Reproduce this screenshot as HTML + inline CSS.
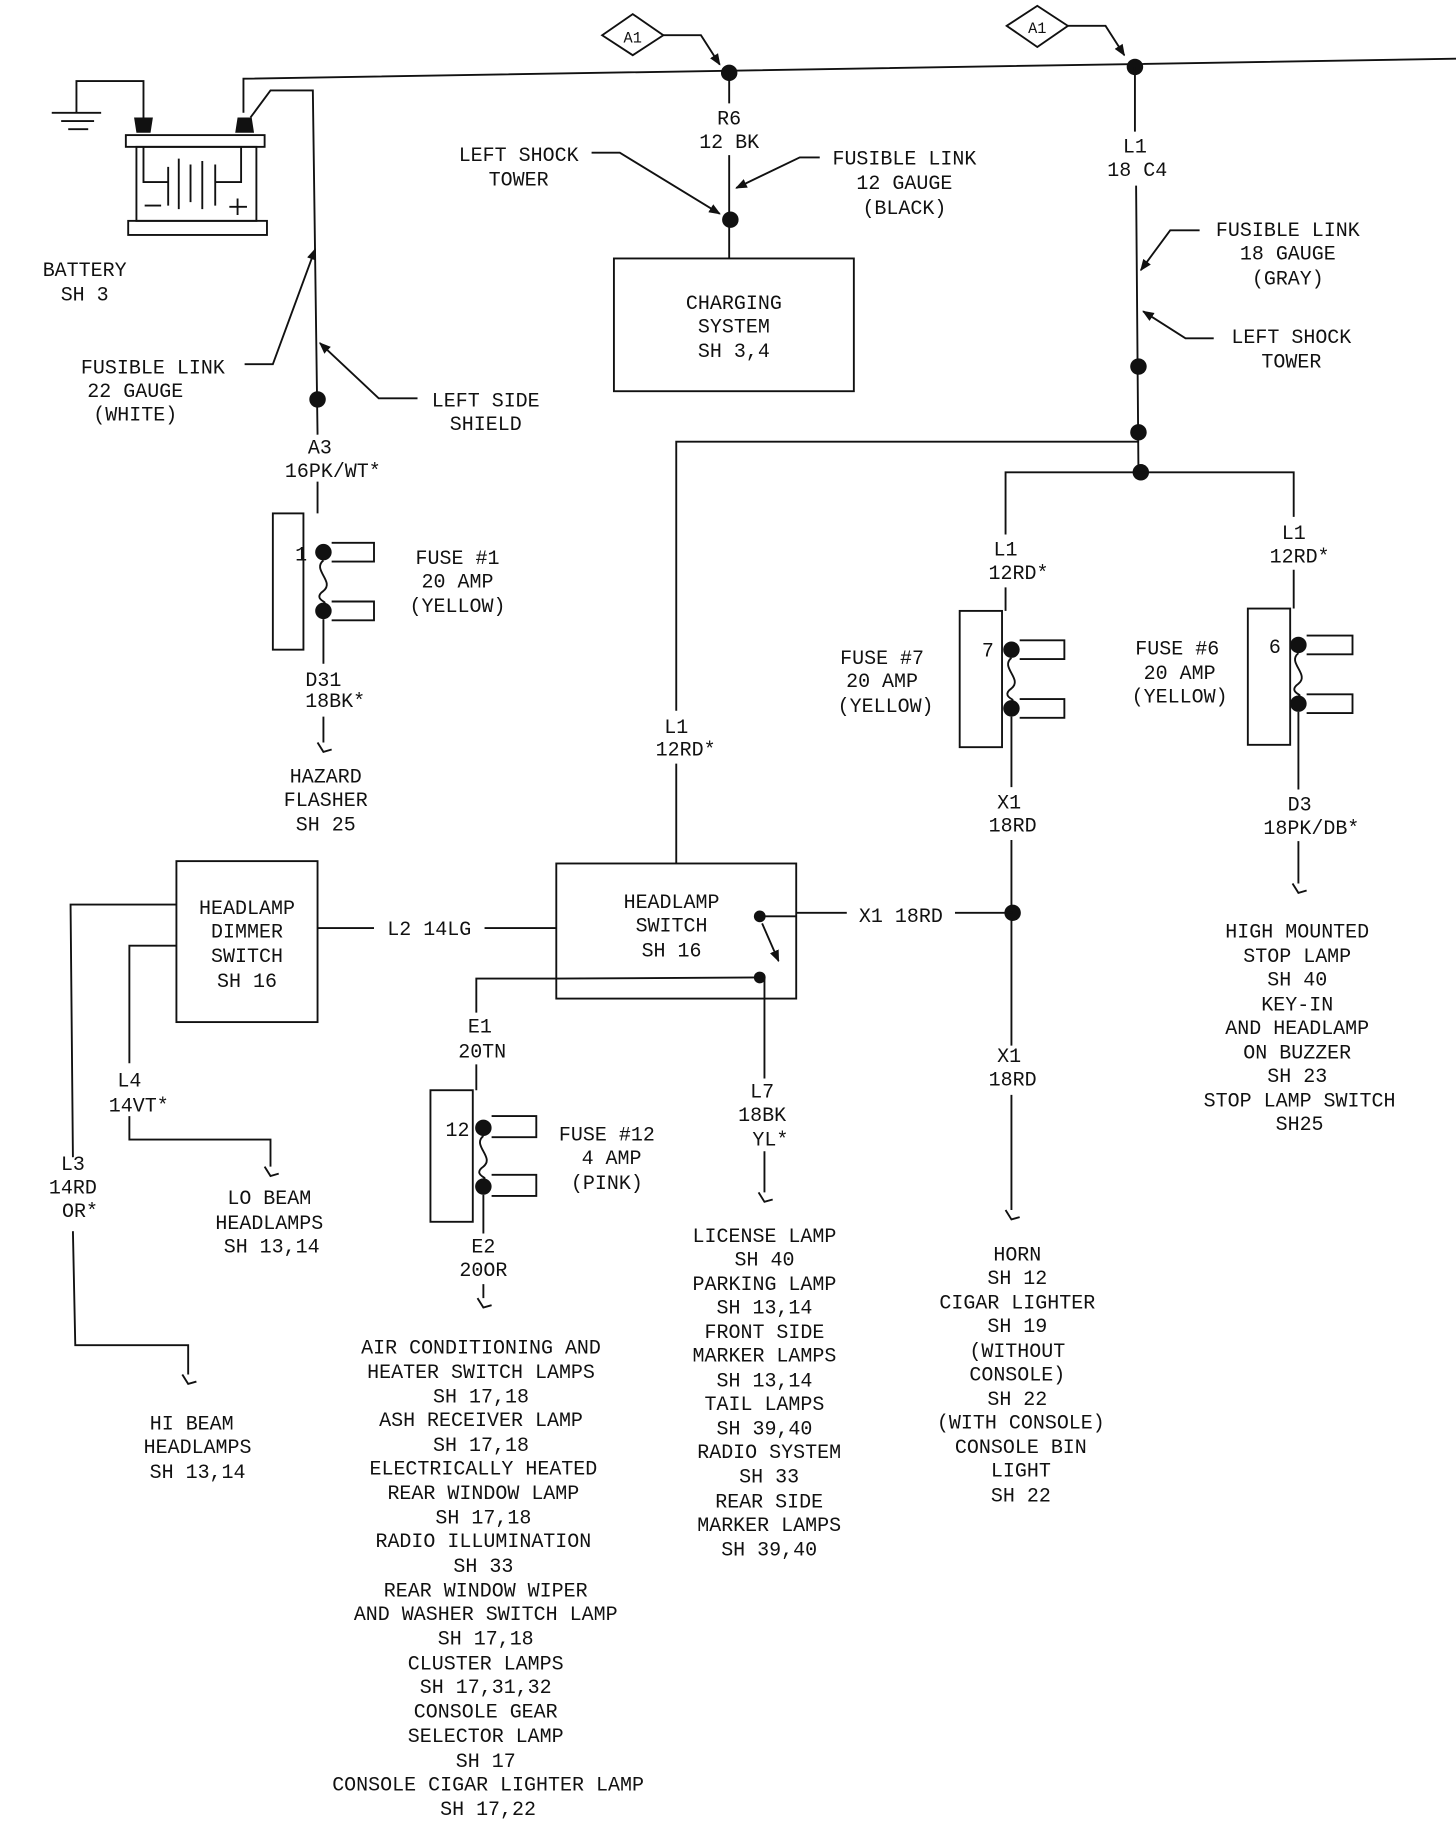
<!DOCTYPE html>
<html><head><meta charset="utf-8"><style>
html,body{margin:0;padding:0;background:#fff;}
svg{display:block;}
text{font-family:"Liberation Mono","DejaVu Sans Mono",monospace;font-size:17px;fill:#111;text-anchor:middle;}
.l{stroke:#111;stroke-width:1.6;fill:none;}
</style></head><body>
<svg width="1456" height="1828" viewBox="0 0 1238 1556" preserveAspectRatio="none" xmlns="http://www.w3.org/2000/svg">
<defs><marker id="ar" markerWidth="10" markerHeight="10" refX="9" refY="5" orient="auto" markerUnits="userSpaceOnUse"><path d="M0,1 L10,5 L0,9 Z" fill="#111"/></marker></defs>
<!-- top line -->
<path class="l" d="M207,96 L207,67 L1238,50"/>
<path class="l" d="M213,100 L230,77 L266,77 L270,370 M270,410 L270,437"/>
<!-- ground -->
<path class="l" d="M122,110 L122,69 L65,69 L65,96"/>
<path class="l" d="M44,96 L86,96 M52,103 L80,103 M58,110 L75,110"/>
<!-- battery -->
<path d="M116,113 L128,113 L130,100 L114,100 Z M200,113 L216,113 L214,100 L202,100 Z" fill="#111"/>
<rect class="l" x="107" y="115" width="118" height="10"/>
<rect class="l" x="116" y="125" width="102" height="63"/>
<rect class="l" x="109" y="188" width="118" height="12"/>
<path class="l" d="M122,125 L122,155 L143,155 M143,142 L143,175 M152,135 L152,178 M162,140 L162,172 M172,137 L172,178 M183,140 L183,175 M183,155 L205,155 L205,125"/>
<path class="l" d="M123,175 L137,175 M195,176 L210,176 M202,169 L202,183"/>
<text x="72" y="235">BATTERY</text><text x="72" y="256">SH 3</text>
<!-- fusible link / left side shield -->
<path class="l" d="M208,310 L232,310 L268,212" marker-end="url(#ar)"/>
<text x="130" y="318">FUSIBLE LINK</text><text x="115" y="338">22 GAUGE</text><text x="115" y="358">(WHITE)</text>
<path class="l" d="M355,339 L322,339 L272,292" marker-end="url(#ar)"/>
<text x="413" y="346">LEFT SIDE</text><text x="413" y="366">SHIELD</text>
<circle cx="270" cy="340" r="7" fill="#111"/>
<text x="272" y="386">A3</text><text x="283" y="406">16PK/WT*</text>
<!-- fuse 1 -->
<rect class="l" x="232" y="437" width="26" height="116"/>
<circle cx="275" cy="470" r="7" fill="#111"/><circle cx="275" cy="520" r="7" fill="#111"/>
<path class="l" d="M282,462 L318,462 L318,478 L282,478 M282,512 L318,512 L318,528 L282,528"/>
<path class="l" d="M275,477 C265,485 285,495 275,503 C265,510 280,513 275,513"/>
<text x="256" y="477">1</text>
<text x="389" y="480">FUSE #1</text><text x="389" y="500">20 AMP</text><text x="389" y="521">(YELLOW)</text>
<path class="l" d="M275,527 L275,565 M275,610 L275,632 M270,632 L275,640 L282,638"/>
<text x="275" y="584">D31</text><text x="285" y="602">18BK*</text>
<text x="277" y="666">HAZARD</text><text x="277" y="686">FLASHER</text><text x="277" y="707">SH 25</text>
<!-- A1 diamonds -->
<path class="l" d="M512,30 L538,12 L564,30 L538,47 Z"/><text x="538" y="36" style="font-size:13px">A1</text>
<path class="l" d="M564,30 L596,30 L612,55" marker-end="url(#ar)"/>
<path class="l" d="M856,22 L882,5 L908,22 L882,40 Z"/><text x="882" y="28" style="font-size:13px">A1</text>
<path class="l" d="M908,22 L940,22 L956,47" marker-end="url(#ar)"/>
<circle cx="620" cy="62" r="7" fill="#111"/><circle cx="965" cy="57" r="7" fill="#111"/>
<!-- charging -->
<path class="l" d="M620,62 L620,88 M620,132 L620,220"/>
<circle cx="621" cy="187" r="7" fill="#111"/>
<text x="620" y="106">R6</text><text x="620" y="126">12 BK</text>
<text x="441" y="137">LEFT SHOCK</text><text x="441" y="158">TOWER</text>
<path class="l" d="M503,130 L527,130 L612,182" marker-end="url(#ar)"/>
<text x="769" y="140">FUSIBLE LINK</text><text x="769" y="161">12 GAUGE</text><text x="769" y="182">(BLACK)</text>
<path class="l" d="M697,134 L680,134 L626,160" marker-end="url(#ar)"/>
<rect class="l" x="522" y="220" width="204" height="113"/>
<text x="624" y="263">CHARGING</text><text x="624" y="283">SYSTEM</text><text x="624" y="304">SH 3,4</text>
<!-- right trunk -->
<path class="l" d="M965,57 L965,112 M966,158 L968,402"/>
<text x="965" y="130">L1</text><text x="967" y="150">18 C4</text>
<text x="1095" y="201">FUSIBLE LINK</text><text x="1095" y="221">18 GAUGE</text><text x="1095" y="242">(GRAY)</text>
<path class="l" d="M1020,196 L995,196 L970,230" marker-end="url(#ar)"/>
<text x="1098" y="292">LEFT SHOCK</text><text x="1098" y="313">TOWER</text>
<path class="l" d="M1032,288 L1008,288 L972,265" marker-end="url(#ar)"/>
<circle cx="968" cy="312" r="7" fill="#111"/><circle cx="968" cy="368" r="7" fill="#111"/><circle cx="970" cy="402" r="7" fill="#111"/>
<path class="l" d="M575,605 L575,376 L968,376 M575,650 L575,735"/>
<path class="l" d="M855,455 L855,402 L1100,402 L1100,440 M855,500 L855,520 M1100,485 L1100,518"/>
<text x="855" y="473">L1</text><text x="866" y="493">12RD*</text>
<text x="1100" y="459">L1</text><text x="1105" y="479">12RD*</text>
<text x="575" y="624">L1</text><text x="583" y="643">12RD*</text>
<!-- fuse 7 -->
<rect class="l" x="816" y="520" width="36" height="116"/>
<circle cx="860" cy="553" r="7" fill="#111"/><circle cx="860" cy="603" r="7" fill="#111"/>
<path class="l" d="M867,545 L905,545 L905,561 L867,561 M867,595 L905,595 L905,611 L867,611"/>
<path class="l" d="M860,560 C850,568 870,578 860,586 C850,593 865,596 860,596"/>
<text x="840" y="559">7</text>
<text x="750" y="565">FUSE #7</text><text x="750" y="585">20 AMP</text><text x="753" y="606">(YELLOW)</text>
<path class="l" d="M860,610 L860,670 M860,715 L860,890 M860,932 L860,1030 M855,1030 L860,1038 L867,1036"/>
<text x="858" y="688">X1</text><text x="861" y="708">18RD</text>
<circle cx="861" cy="777" r="7" fill="#111"/>
<path class="l" d="M677,777 L720,777 M812,777 L861,777"/>
<text x="766" y="785">X1 18RD</text>
<text x="858" y="904">X1</text><text x="861" y="924">18RD</text>
<text x="865" y="1073">HORN</text><text x="865" y="1093">SH 12</text><text x="865" y="1114">CIGAR LIGHTER</text><text x="865" y="1134">SH 19</text><text x="865" y="1155">(WITHOUT</text><text x="865" y="1175">CONSOLE)</text><text x="865" y="1196">SH 22</text><text x="868" y="1216">(WITH CONSOLE)</text><text x="868" y="1237">CONSOLE BIN</text><text x="868" y="1257">LIGHT</text><text x="868" y="1278">SH 22</text>
<!-- fuse 6 -->
<rect class="l" x="1061" y="518" width="36" height="116"/>
<circle cx="1104" cy="549" r="7" fill="#111"/><circle cx="1104" cy="599" r="7" fill="#111"/>
<path class="l" d="M1111,541 L1150,541 L1150,557 L1111,557 M1111,591 L1150,591 L1150,607 L1111,607"/>
<path class="l" d="M1104,556 C1094,564 1114,574 1104,582 C1094,589 1109,592 1104,592"/>
<text x="1084" y="556">6</text>
<text x="1001" y="557">FUSE #6</text><text x="1003" y="578">20 AMP</text><text x="1003" y="598">(YELLOW)</text>
<path class="l" d="M1104,606 L1104,672 M1104,716 L1104,752 M1099,752 L1104,760 L1111,758"/>
<text x="1105" y="690">D3</text><text x="1115" y="710">18PK/DB*</text>
<text x="1103" y="798">HIGH MOUNTED</text><text x="1103" y="819">STOP LAMP</text><text x="1103" y="839">SH 40</text><text x="1103" y="860">KEY-IN</text><text x="1103" y="880">AND HEADLAMP</text><text x="1103" y="901">ON BUZZER</text><text x="1103" y="921">SH 23</text><text x="1105" y="942">STOP LAMP SWITCH</text><text x="1105" y="962">SH25</text>
<!-- headlamp switch -->
<rect class="l" x="473" y="735" width="204" height="115"/>
<text x="571" y="773">HEADLAMP</text><text x="571" y="793">SWITCH</text><text x="571" y="814">SH 16</text>
<circle cx="646" cy="780" r="5" fill="#111"/><circle cx="646" cy="832" r="5" fill="#111"/>
<path class="l" d="M646,780 L677,780 M648,786 L662,818" marker-end="url(#ar)"/>
<path class="l" d="M646,832 L473,833 L405,833 L405,862 M405,906 L405,928"/>
<text x="408" y="879">E1</text><text x="410" y="900">20TN</text>
<path class="l" d="M650,833 L650,918 M650,980 L650,1015 M645,1015 L650,1023 L657,1021"/>
<text x="648" y="934">L7</text><text x="648" y="954">18BK</text><text x="655" y="975">YL*</text>
<text x="650" y="1057">LICENSE LAMP</text><text x="650" y="1077">SH 40</text><text x="650" y="1098">PARKING LAMP</text><text x="650" y="1118">SH 13,14</text><text x="650" y="1139">FRONT SIDE</text><text x="650" y="1159">MARKER LAMPS</text><text x="650" y="1180">SH 13,14</text><text x="650" y="1200">TAIL LAMPS</text><text x="650" y="1221">SH 39,40</text><text x="654" y="1241">RADIO SYSTEM</text><text x="654" y="1262">SH 33</text><text x="654" y="1283">REAR SIDE</text><text x="654" y="1303">MARKER LAMPS</text><text x="654" y="1324">SH 39,40</text>
<!-- fuse 12 -->
<rect class="l" x="366" y="928" width="36" height="112"/>
<circle cx="411" cy="960" r="7" fill="#111"/><circle cx="411" cy="1010" r="7" fill="#111"/>
<path class="l" d="M418,950 L456,950 L456,968 L418,968 M418,1000 L456,1000 L456,1018 L418,1018"/>
<path class="l" d="M411,967 C401,975 421,985 411,993 C401,1000 416,1003 411,1003"/>
<text x="389" y="967">12</text>
<text x="516" y="971">FUSE #12</text><text x="520" y="991">4 AMP</text><text x="516" y="1012">(PINK)</text>
<path class="l" d="M411,1017 L411,1050 M411,1093 L411,1105 M406,1105 L411,1113 L418,1111"/>
<text x="411" y="1066">E2</text><text x="411" y="1086">20OR</text>
<text x="409" y="1152">AIR CONDITIONING AND</text><text x="409" y="1173">HEATER SWITCH LAMPS</text><text x="409" y="1194">SH 17,18</text><text x="409" y="1214">ASH RECEIVER LAMP</text><text x="409" y="1235">SH 17,18</text><text x="411" y="1255">ELECTRICALLY HEATED</text><text x="411" y="1276">REAR WINDOW LAMP</text><text x="411" y="1297">SH 17,18</text><text x="411" y="1317">RADIO ILLUMINATION</text><text x="411" y="1338">SH 33</text><text x="413" y="1359">REAR WINDOW WIPER</text><text x="413" y="1379">AND WASHER SWITCH LAMP</text><text x="413" y="1400">SH 17,18</text><text x="413" y="1421">CLUSTER LAMPS</text><text x="413" y="1441">SH 17,31,32</text><text x="413" y="1462">CONSOLE GEAR</text><text x="413" y="1483">SELECTOR LAMP</text><text x="413" y="1504">SH 17</text><text x="415" y="1524">CONSOLE CIGAR LIGHTER LAMP</text><text x="415" y="1545">SH 17,22</text>
<!-- dimmer -->
<rect class="l" x="150" y="733" width="120" height="137"/>
<text x="210" y="778">HEADLAMP</text><text x="210" y="798">DIMMER</text><text x="210" y="819">SWITCH</text><text x="210" y="840">SH 16</text>
<path class="l" d="M270,790 L318,790 M412,790 L473,790"/>
<text x="365" y="796">L2 14LG</text>
<path class="l" d="M150,770 L60,770 L62,985 M62,1048 L64,1145 L160,1145 L160,1170 M155,1170 L160,1178 L167,1176"/>
<text x="62" y="996">L3</text><text x="62" y="1016">14RD</text><text x="68" y="1036">OR*</text>
<text x="163" y="1217">HI BEAM</text><text x="168" y="1237">HEADLAMPS</text><text x="168" y="1258">SH 13,14</text>
<path class="l" d="M150,805 L110,805 L110,905 M110,950 L110,970 L230,970 L230,993 M225,993 L230,1001 L237,999"/>
<text x="110" y="925">L4</text><text x="118" y="946">14VT*</text>
<text x="229" y="1025">LO BEAM</text><text x="229" y="1046">HEADLAMPS</text><text x="231" y="1066">SH 13,14</text>
</svg>
</body></html>
